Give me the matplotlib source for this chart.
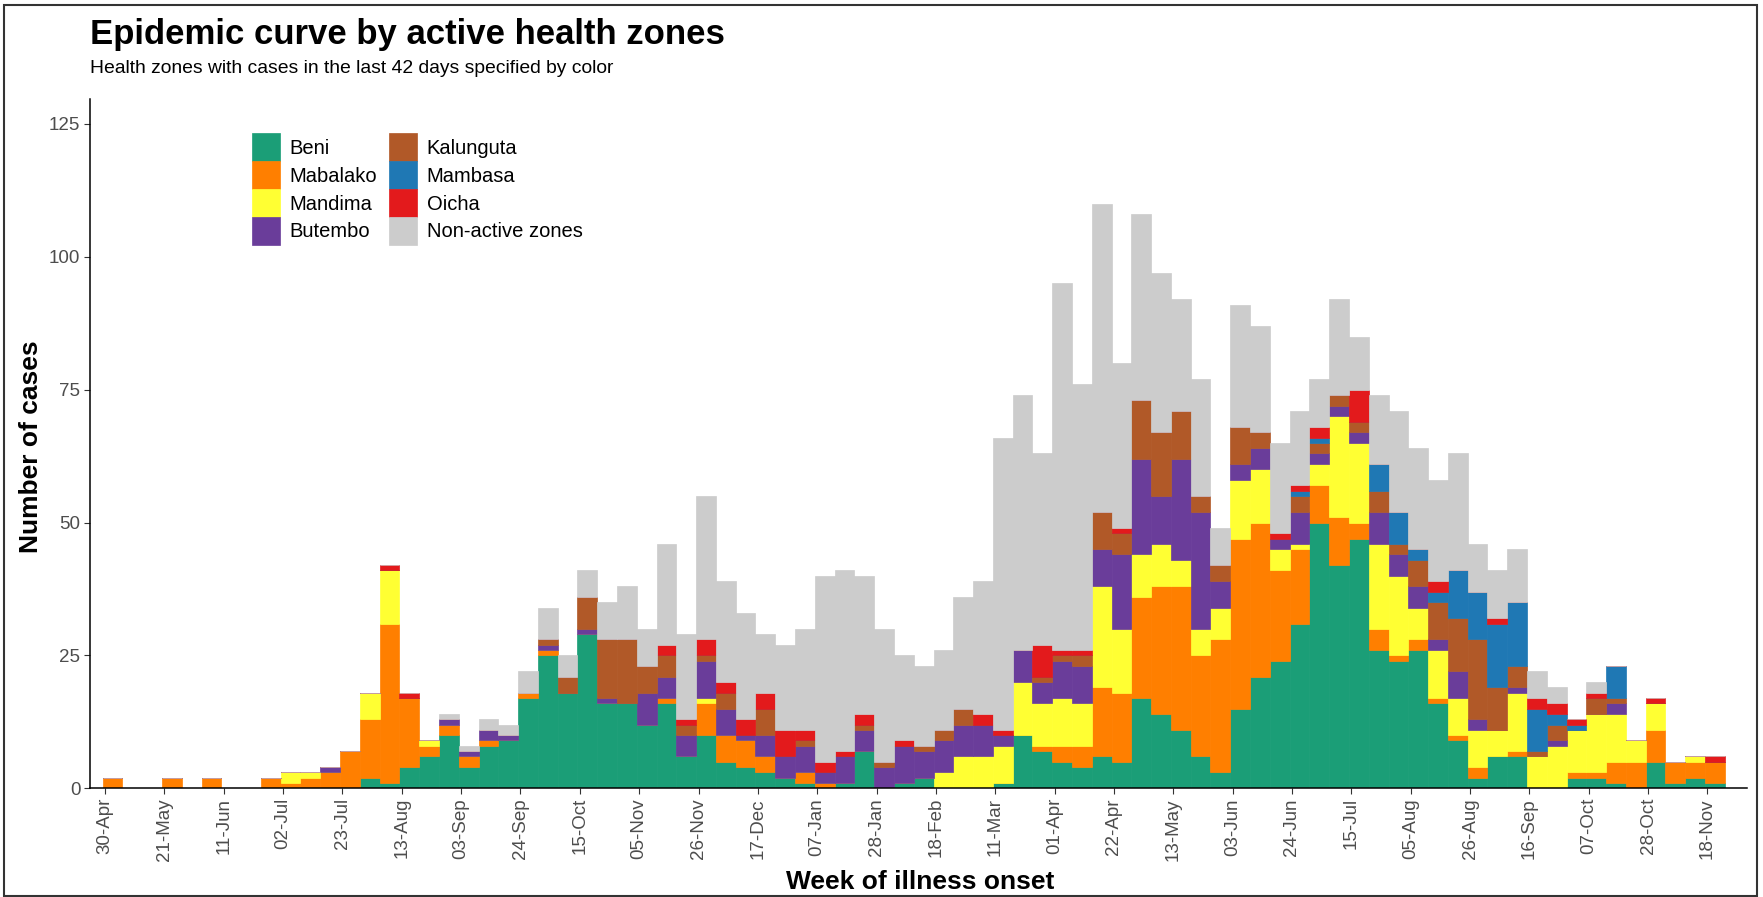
import numpy as np
import matplotlib
matplotlib.use('Agg')
import matplotlib.pyplot as plt
from matplotlib.patches import Rectangle

plt.rcParams['font.family'] = ['Liberation Sans', 'DejaVu Sans']

# weekly counts, week 0 = week of 30-Apr (82 weeks)
weeks = np.arange(82)
tick_labels = ['30-Apr', '21-May', '11-Jun', '02-Jul', '23-Jul', '13-Aug', '03-Sep',
               '24-Sep', '15-Oct', '05-Nov', '26-Nov', '17-Dec', '07-Jan', '28-Jan',
               '18-Feb', '11-Mar', '01-Apr', '22-Apr', '13-May', '03-Jun', '24-Jun',
               '15-Jul', '05-Aug', '26-Aug', '16-Sep', '07-Oct', '28-Oct', '18-Nov']

zones = ['Beni', 'Mabalako', 'Mandima', 'Butembo',
         'Kalunguta', 'Mambasa', 'Oicha', 'Non-active zones']
colors = ['#1B9E77', '#FF7F00', '#FFFF33', '#6A3D9A',
          '#B15928', '#1F78B4', '#E31A1C', '#CCCCCC']

beni = [0, 0, 0, 0, 0, 0, 0, 0, 0, 0, 0, 0, 0, 2, 1, 4, 6, 10, 4, 8,
        9, 17, 25, 18, 29, 16, 16, 12, 16, 6, 10, 5, 4, 3, 2, 1, 0, 1, 7, 0,
        1, 2, 0, 0, 0, 1, 10, 7, 5, 4, 6, 5, 17, 14, 11, 6, 3, 15, 21, 24,
        31, 50, 42, 47, 26, 24, 26, 16, 9, 2, 6, 6, 0, 0, 2, 2, 1, 0, 5, 1,
        2, 1]
mabalako = [2, 0, 0, 2, 0, 2, 0, 0, 2, 1, 2, 3, 7, 11, 30, 13, 2, 2, 2, 1,
            0, 1, 1, 0, 0, 0, 0, 0, 1, 0, 6, 5, 5, 3, 0, 2, 1, 0, 0, 0,
            0, 0, 0, 0, 0, 0, 0, 1, 3, 4, 13, 13, 19, 24, 27, 19, 25, 32, 29, 17,
            14, 7, 9, 3, 4, 1, 2, 1, 1, 2, 0, 1, 0, 0, 1, 1, 4, 5, 6, 4,
            3, 4]
mandima = [0, 0, 0, 0, 0, 0, 0, 0, 0, 2, 1, 0, 0, 5, 10, 0, 1, 0, 0, 0,
           0, 0, 0, 0, 0, 0, 0, 0, 0, 0, 1, 0, 0, 0, 0, 0, 0, 0, 0, 0,
           0, 0, 3, 6, 6, 7, 10, 8, 9, 8, 19, 12, 8, 8, 5, 5, 6, 11, 10, 4,
           1, 4, 19, 15, 16, 15, 6, 9, 7, 7, 5, 11, 6, 8, 8, 11, 9, 4, 5, 0,
           1, 0]
butembo = [0, 0, 0, 0, 0, 0, 0, 0, 0, 0, 0, 1, 0, 0, 0, 0, 0, 1, 1, 2,
           1, 0, 1, 0, 1, 1, 0, 6, 4, 4, 7, 5, 1, 4, 4, 5, 2, 5, 4, 4,
           7, 5, 6, 6, 6, 2, 6, 4, 7, 7, 7, 14, 18, 9, 19, 22, 5, 3, 4, 2,
           6, 2, 2, 2, 6, 4, 4, 2, 5, 2, 0, 1, 0, 1, 0, 0, 2, 0, 0, 0,
           0, 0]
kalunguta = [0, 0, 0, 0, 0, 0, 0, 0, 0, 0, 0, 0, 0, 0, 0, 0, 0, 0, 0, 0,
             0, 0, 1, 3, 6, 11, 12, 5, 4, 2, 1, 3, 0, 5, 0, 1, 0, 0, 1, 1,
             0, 1, 2, 3, 0, 0, 0, 1, 1, 2, 7, 4, 11, 12, 9, 3, 3, 7, 3, 0,
             3, 2, 2, 2, 4, 2, 5, 7, 10, 15, 8, 4, 1, 3, 0, 3, 1, 0, 0, 0,
             0, 0]
mambasa = [0] * 60 + [1, 1, 0, 0, 5, 6, 2, 2, 9, 9, 12, 12, 8, 2, 1, 0, 6, 0, 0, 0,
                      0, 0]
oicha = [0, 0, 0, 0, 0, 0, 0, 0, 0, 0, 0, 0, 0, 0, 1, 1, 0, 0, 0, 0,
         0, 0, 0, 0, 0, 0, 0, 0, 2, 1, 3, 2, 3, 3, 5, 2, 2, 1, 2, 0,
         1, 0, 0, 0, 2, 1, 0, 6, 1, 1, 0, 1, 0, 0, 0, 0, 0, 0, 0, 1,
         1, 2, 0, 6, 0, 0, 0, 2, 0, 0, 1, 0, 2, 2, 1, 1, 0, 0, 1, 0,
         0, 1]
non_active = [0, 0, 0, 0, 0, 0, 0, 0, 0, 0, 0, 0, 0, 0, 0, 0, 0, 1, 1, 2,
              2, 4, 6, 4, 5, 7, 10, 7, 19, 16, 27, 19, 20, 11, 16, 19, 35, 34, 26, 25,
              16, 15, 15, 21, 25, 55, 48, 36, 69, 50, 58, 31, 35, 30, 21, 22, 7, 23, 20, 17,
              14, 9, 18, 10, 13, 19, 19, 19, 22, 9, 9, 10, 5, 3, 0, 2, 0, 0, 0, 0,
              0, 0]

series = [beni, mabalako, mandima, butembo, kalunguta, mambasa, oicha, non_active]

fig = plt.figure(figsize=(17.63, 8.97), dpi=100)
ax = fig.add_axes([0.05105, 0.12119, 0.93987, 0.76845])

# stacked weekly bars
bottom = np.zeros(len(weeks))
for name, vals, col in zip(zones, series, colors):
    vals = np.array(vals, dtype=float)
    ax.bar(weeks + 0.38, vals, width=1.0, bottom=bottom, color=col,
           edgecolor=col, linewidth=0.5, label=name)
    bottom += vals

ax.set_xlim(-0.76, 83.0)
ax.set_ylim(0, 129.7)
ax.set_yticks([0, 25, 50, 75, 100, 125])
ax.set_xticks(weeks[::3])
ax.set_xticklabels(tick_labels, rotation=90, va='top', ha='center')
ax.tick_params(axis='both', colors='#333333', labelcolor='#4D4D4D',
               labelsize=13.5, length=4, width=0.8, pad=3)
for s in ['top', 'right']:
    ax.spines[s].set_visible(False)
for s in ['left', 'bottom']:
    ax.spines[s].set_linewidth(1.1)
    ax.spines[s].set_color('black')

ax.legend(loc='upper left', bbox_to_anchor=(0.098, 0.95), ncol=2, frameon=False,
          fontsize=14.5, handlelength=1.35, handleheight=1.75, labelspacing=0.0,
          handletextpad=0.5, columnspacing=0.6, borderpad=0, borderaxespad=0)

fig.text(90 / 1763, 1 - 44 / 897, 'Epidemic curve by active health zones',
         fontsize=25, fontweight='bold', ha='left', va='baseline')
fig.text(90 / 1763, 1 - 73 / 897,
         'Health zones with cases in the last 42 days specified by color',
         fontsize=13.9, ha='left', va='baseline')
fig.text(0.5220, 1 - 882 / 897, 'Week of illness onset', fontsize=19,
         fontweight='bold', ha='center', va='center')
fig.text(31 / 1763, 1 - 447 / 897, 'Number of cases', fontsize=19,
         fontweight='bold', ha='center', va='center', rotation=90)

# thin frame around the whole picture
fig.add_artist(Rectangle((0.0023, 0.001), 0.9943, 0.9933, fill=False,
                         edgecolor='#333333', linewidth=1.5,
                         transform=fig.transFigure))

fig.savefig('out.png', dpi=100)
